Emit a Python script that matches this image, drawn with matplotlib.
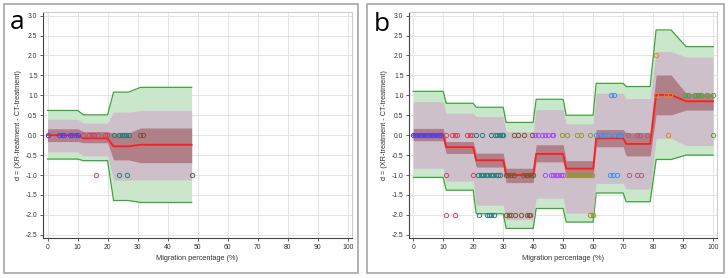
import matplotlib
matplotlib.use('Agg')
import matplotlib.pyplot as plt
from matplotlib.patches import Rectangle

plt.rcParams['font.family'] = ['Liberation Sans', 'DejaVu Sans']

# ---------------- Panel a data ----------------
a_x = [0, 10, 12, 20, 22, 27, 31, 48]
a_green_hi = [0.62, 0.62, 0.51, 0.51, 1.08, 1.08, 1.20, 1.20]
a_green_lo = [-0.60, -0.60, -0.64, -0.64, -1.64, -1.64, -1.69, -1.69]
a_grey_hi = [0.40, 0.40, 0.30, 0.30, 0.58, 0.58, 0.62, 0.62]
a_grey_lo = [-0.42, -0.42, -0.52, -0.52, -1.13, -1.13, -1.12, -1.12]
a_dark_hi = [0.16, 0.16, 0.09, 0.09, 0.05, 0.05, 0.18, 0.18]
a_dark_lo = [-0.16, -0.16, -0.19, -0.19, -0.62, -0.62, -0.69, -0.69]
a_mean = [0, 0, -0.08, -0.08, -0.28, -0.28, -0.24, -0.24]

a_pts_x = [0, 3.9, 4.7, 5.4, 7.4, 8.3, 9.4, 10,
           11.9, 13.9, 14.7, 15.4, 16.9, 19.1, 19.9,
           22.1, 23.9, 24.7, 25.4, 26.3, 27.2,
           30.8, 31.9,
           16, 23.9, 26.5, 48]
a_pts_y = [0] * 23 + [-1, -1, -1, -1]
a_pts_g = ['blue'] * 8 + ['red'] * 7 + ['teal'] * 6 + ['brown'] * 2 + ['red', 'teal', 'teal', 'brown']

# ---------------- Panel b data ----------------
b_x = [0, 10, 11, 20, 21, 30, 31, 40, 41, 50, 51, 60, 61, 70, 71, 79, 81, 86, 91, 100]
b_green_hi = [1.10, 1.10, 0.80, 0.80, 0.70, 0.70, 0.32, 0.32, 0.90, 0.90,
              0.50, 0.50, 1.30, 1.30, 1.22, 1.22, 2.64, 2.64, 2.22, 2.22]
b_green_lo = [-1.06, -1.06, -1.38, -1.38, -1.97, -1.97, -2.34, -2.34, -1.84, -1.84,
              -2.18, -2.18, -1.45, -1.45, -1.67, -1.67, -0.61, -0.61, -0.50, -0.50]
b_grey_hi = [0.84, 0.84, 0.55, 0.55, 0.47, 0.47, 0.09, 0.09, 0.64, 0.64,
             0.28, 0.28, 1.05, 1.05, 0.92, 0.92, 2.10, 2.10, 1.96, 1.96]
b_grey_lo = [-0.83, -0.83, -1.15, -1.15, -1.76, -1.76, -2.12, -2.12, -1.58, -1.58,
             -1.96, -1.96, -1.21, -1.21, -1.35, -1.35, -0.08, -0.08, -0.26, -0.26]
b_dark_hi = [0.17, 0.17, -0.16, -0.16, -0.45, -0.45, -0.83, -0.83, -0.24, -0.24,
             -0.64, -0.64, 0.14, 0.14, 0.06, 0.06, 1.51, 1.51, 1.05, 1.05]
b_dark_lo = [-0.14, -0.14, -0.46, -0.46, -0.80, -0.80, -1.19, -1.19, -0.67, -0.67,
             -1.04, -1.04, -0.29, -0.29, -0.52, -0.52, 0.51, 0.51, 0.63, 0.63]
b_mean = [0, 0, -0.30, -0.30, -0.63, -0.63, -1.0, -1.0, -0.47, -0.47,
          -0.84, -0.84, -0.08, -0.08, -0.22, -0.22, 1.01, 1.01, 0.85, 0.85]

# points: x positions per colour group and row (d value)
b_blue_x0 = [0, 0.6, 1.2, 2.4, 3.0, 3.8, 4.6, 5.4, 6.2, 7.0, 7.8, 8.6, 9.4]
b_red_x0 = [11.1, 12.8, 13.9, 14.5, 17.8, 18.9, 19.5]
b_red_xm1 = [10.8, 20.0]
b_red_xm2 = [10.8, 13.9]
b_teal_x0 = [21.1, 22.8, 26.1, 27.2, 27.8, 28.9, 29.5, 30.0]
b_teal_xm1 = [21.7, 22.5, 23.4, 24.2, 24.9, 25.8, 26.7, 27.5, 28.3, 28.9]
b_teal_xm2 = [21.9, 24.7, 25.3, 26.1, 26.9]
b_brown_x0 = [33.6, 35.0, 36.9, 39.7]
b_brown_xm1 = [30.8, 31.6, 32.5, 33.6, 36.7, 37.5, 38.4, 39.2, 40.0]
b_brown_xm2 = [31.1, 31.9, 32.7, 33.8, 36.0, 38.0, 38.6, 38.9]
b_purple_x0 = [40.6, 41.7, 42.8, 43.9, 45.0, 46.2, 46.7]
b_purple_xm1 = [43.9, 45.8, 46.7, 47.5, 48.3, 49.2, 49.9]
b_olive_x0 = [49.7, 51.4, 54.7, 55.8, 58.9]
b_olive_xm1 = [51.2, 52.2, 53.1, 54.0, 55.0, 55.9, 56.8, 57.8, 58.7, 59.7]
b_olive_xm2 = [58.9, 59.8]
b_ltblue_x0 = [60.8, 62.7, 63.6, 65.0, 66.9, 68.6, 69.4]
b_ltblue_xm1 = [65.6, 66.7, 68.1]
b_ltblue_x1 = [65.9, 67.0]
b_mauve_x0 = [71.7, 74.7, 75.6, 77.9]
b_mauve_xm1 = [72.0, 74.7, 75.9]
b_orange_x0 = [84.9]
b_orange_x1 = [80.9, 84.3, 85.6]
b_orange_x2 = [81.0]
b_green_x0 = [100.0]
b_green_x1 = [90.6, 91.7, 93.9, 95.0, 95.8, 98.0, 100.0]

b_groups = [
    (b_blue_x0, 0, 'blue'), (b_red_x0, 0, 'red'), (b_red_xm1, -1, 'red'), (b_red_xm2, -2, 'red'),
    (b_teal_x0, 0, 'teal'), (b_teal_xm1, -1, 'teal'), (b_teal_xm2, -2, 'teal'),
    (b_brown_x0, 0, 'brown'), (b_brown_xm1, -1, 'brown'), (b_brown_xm2, -2, 'brown'),
    (b_purple_x0, 0, 'purple'), (b_purple_xm1, -1, 'purple'),
    (b_olive_x0, 0, 'olive'), (b_olive_xm1, -1, 'olive'), (b_olive_xm2, -2, 'olive'),
    (b_ltblue_x0, 0, 'ltblue'), (b_ltblue_xm1, -1, 'ltblue'), (b_ltblue_x1, 1, 'ltblue'),
    (b_mauve_x0, 0, 'mauve'), (b_mauve_xm1, -1, 'mauve'),
    (b_orange_x0, 0, 'orange'), (b_orange_x1, 1, 'orange'), (b_orange_x2, 2, 'orange'),
    (b_green_x0, 0, 'green'), (b_green_x1, 1, 'green'),
]

colors = {
    'blue': '#4646f0', 'red': '#c84a64', 'teal': '#2a7c7c', 'brown': '#7a5838',
    'purple': '#a24ef0', 'olive': '#96962c', 'ltblue': '#3a92ee', 'mauve': '#a8607e',
    'orange': '#e08a22', 'green': '#4fa236',
}

y_ticks = [-2.5, -2.0, -1.5, -1.0, -0.5, 0.0, 0.5, 1.0, 1.5, 2.0, 2.5, 3.0]
x_ticks = [0, 10, 20, 30, 40, 50, 60, 70, 80, 90, 100]

W, H = 728, 278
fig = plt.figure(figsize=(W / 100, H / 100), dpi=100)

GREEN_LINE = '#3aa63a'
GREEN_FILL = '#cbe7cb'
GREY_FILL = '#cdc0cb'
DARK_FILL = '#b07f88'
RED = '#ff1e1e'


def style_axes(ax, xlim):
    ax.set_xlim(*xlim)
    ax.set_ylim(-2.58, 3.09)
    ax.set_xticks(x_ticks)
    ax.set_yticks(y_ticks)
    ax.set_yticklabels(['%.1f' % v for v in y_ticks])
    ax.grid(True, color='#e4e4e4', lw=0.7)
    ax.set_axisbelow(True)
    for s in ['top', 'right']:
        ax.spines[s].set_color('#cfcfcf')
        ax.spines[s].set_linewidth(0.8)
    for s in ['left', 'bottom']:
        ax.spines[s].set_color('#444444')
        ax.spines[s].set_linewidth(0.8)
    ax.tick_params(axis='both', labelsize=4.9, colors='#444444', labelcolor='#333333',
                   length=2.5, width=0.6, pad=1.5)
    ax.set_xlabel('Migration percentage (%)', fontsize=5.3, color='#333333', labelpad=3)
    ax.set_ylabel('d = (XR-treatment - CT-treatment)', fontsize=5.3, color='#333333', labelpad=3)


def draw_bands(ax, x, ghi, glo, ehi, elo, dhi, dlo, mean):
    ax.fill_between(x, glo, ghi, color=GREEN_FILL, lw=0, zorder=2)
    ax.plot(x, ghi, color=GREEN_LINE, lw=0.9, zorder=3)
    ax.plot(x, glo, color=GREEN_LINE, lw=0.9, zorder=3)
    ax.fill_between(x, elo, ehi, color=GREY_FILL, lw=0, zorder=3)
    ax.fill_between(x, dlo, dhi, color=DARK_FILL, lw=0, zorder=4)
    ax.plot(x, mean, color=RED, lw=1.3, zorder=5)


# Panel a
axa = fig.add_axes([43 / W, 1 - 238 / H, 309 / W, 226 / H])
style_axes(axa, (-1.5, 101.4))
draw_bands(axa, a_x, a_green_hi, a_green_lo, a_grey_hi, a_grey_lo, a_dark_hi, a_dark_lo, a_mean)
for x, y, g in zip(a_pts_x, a_pts_y, a_pts_g):
    axa.plot([x], [y], 'o', mfc='none', mec=colors[g], ms=3.1, mew=0.7, zorder=6)

# Panel b
axb = fig.add_axes([409 / W, 1 - 238 / H, 308 / W, 226 / H])
style_axes(axb, (-1.4, 101.3))
draw_bands(axb, b_x, b_green_hi, b_green_lo, b_grey_hi, b_grey_lo, b_dark_hi, b_dark_lo, b_mean)
for xs, yv, g in b_groups:
    axb.plot(xs, [yv] * len(xs), 'o', ls='none', mfc='none', mec=colors[g], ms=3.1, mew=0.7, zorder=6)

# panel frames
for x0, x1 in [(4, 358), (367, 724)]:
    fig.add_artist(Rectangle((x0 / W, 1 - 273 / H), (x1 - x0) / W, (273 - 4) / H,
                             transform=fig.transFigure, fill=False, ec='#a6a6a6', lw=1.2))

fig.text(10 / W, 1 - 29 / H, 'a', fontsize=19, family=['Open Sans', 'DejaVu Sans'],
         va='baseline', ha='left', color='black')
fig.text(374 / W, 1 - 31 / H, 'b', fontsize=19, family=['Open Sans', 'DejaVu Sans'],
         va='baseline', ha='left', color='black')

fig.savefig('out.png', dpi=100)
